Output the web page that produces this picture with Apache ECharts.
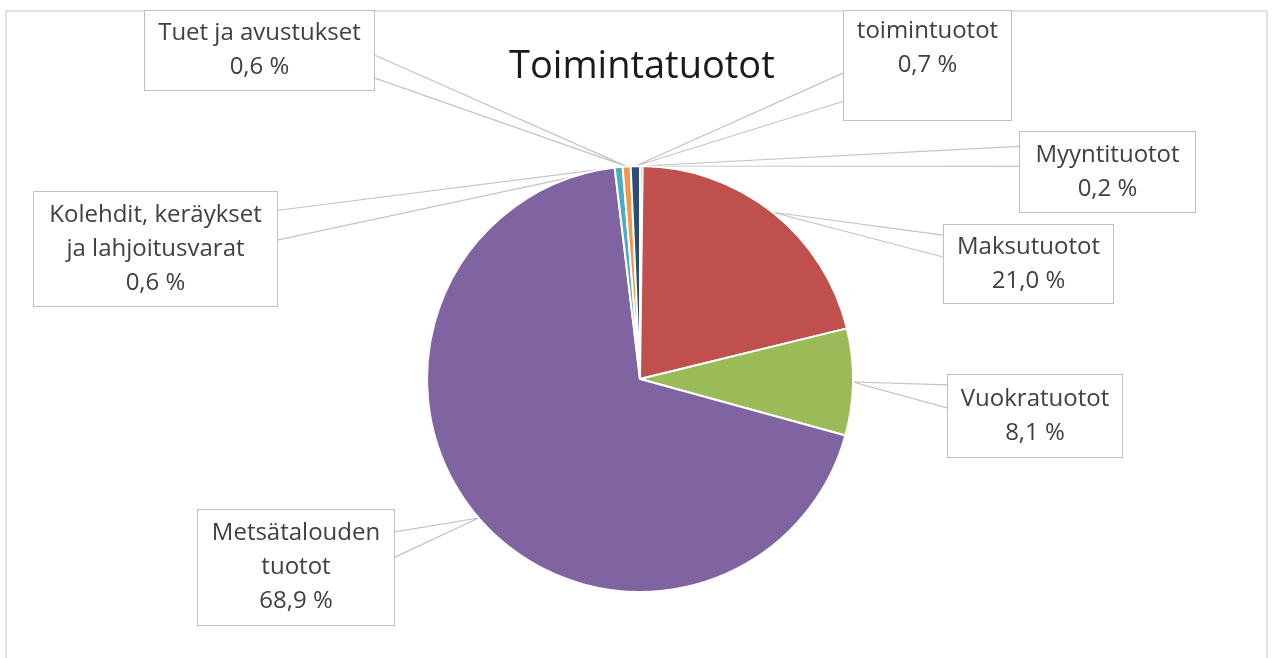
<!DOCTYPE html>
<html><head><meta charset="utf-8">
<script src="https://cdn.jsdelivr.net/npm/echarts@6/dist/echarts.min.js"></script>
<style>html,body{margin:0;padding:0;background:#fff}#c{width:1276px;height:658px}</style>
</head><body><div id="c"></div><script>
const categories = ['Myyntituotot', 'Maksutuotot', 'Vuokratuotot', 'Metsätalouden\ntuotot', 'Kolehdit, keräykset\nja lahjoitusvarat', 'Tuet ja avustukset', 'toimintuotot'];
const shares = [0.2, 21.0, 8.1, 68.9, 0.6, 0.6, 0.7];
const colors = ['#4F81BD', '#C0504D', '#9BBB59', '#8064A2', '#4BACC6', '#F79646', '#2C4D75'];
// callout box layout: left, top, width, height, wedge attach fractions (of height), extra blank lines
const boxes = [
  [1019, 132, 177, 80, 0.18, 0.43, 0],
  [943, 225, 171, 78, 0.13, 0.41, 0],
  [947, 375, 176, 82, 0.12, 0.40, 0],
  [197, 510, 198, 115, 0.19, 0.41, 0],
  [33, 192, 245, 114, 0.16, 0.42, 0],
  [144, 11, 231, 79, 0.56, 0.85, 0],
  [843, 11, 169, 109, 0.57, 0.83, 1]
];
const LH = 34;
const FONT = '"Open Sans", sans-serif';

const chart = echarts.init(document.getElementById('c'), null, {renderer: 'canvas'});
const data = categories.map((name, i) => {
  const b = boxes[i];
  const lines = name.split('\n').length + 1 + b[6];
  const pv = (b[3] - lines * LH) / 2;
  return {
    name: name,
    value: shares[i],
    itemStyle: {color: colors[i]},
    label: {width: b[2] - 2, padding: [pv, 0, pv, 0]}
  };
});
chart.setOption({
  animation: false,
  title: {
    text: 'Toimintatuotot', left: 504, top: 43,
    textStyle: {fontFamily: FONT, fontSize: 38, fontWeight: 'normal', color: '#1a1a1a'}
  },
  graphic: [{
    type: 'rect', z: -10, silent: true,
    shape: {x: 6, y: 11, width: 1261, height: 720},
    style: {fill: 'none', stroke: '#d9d9d9', lineWidth: 1.5}
  }],
  series: [{
    type: 'pie',
    center: [640, 379],
    radius: 213,
    startAngle: 90,
    clockwise: true,
    avoidLabelOverlap: false,
    itemStyle: {borderColor: '#fff', borderWidth: 2},
    label: {
      show: true, position: 'outside',
      fontFamily: FONT, fontSize: 24, lineHeight: LH, color: '#404040',
      backgroundColor: '#fff', borderColor: '#bfbfbf', borderWidth: 1,
      align: 'center',
      formatter: p => p.name + '\n' + p.value.toFixed(1).replace('.', ',') + ' %' + (boxes[p.dataIndex][6] ? '\n ' : '')
    },
    labelLine: {show: true, length: 10, length2: 10, smooth: false, lineStyle: {color: '#c4c4c4', width: 1.2}},
    labelLayout: function (p) {
      const b = boxes[p.dataIndex];
      const cx = b[0] + b[2] / 2, cy = b[1] + b[3] / 2;
      const edgeX = cx < 640 ? b[0] + b[2] : b[0];
      const res = {x: cx, y: cy, align: 'center', verticalAlign: 'middle'};
      if (p.labelLinePoints) {
        const apex = p.labelLinePoints[0];
        res.labelLinePoints = [[edgeX, b[1] + b[3] * b[4]], [apex[0], apex[1]], [edgeX, b[1] + b[3] * b[5]]];
      }
      return res;
    },
    emphasis: {disabled: true},
    data: data
  }]
});
</script></body></html>
